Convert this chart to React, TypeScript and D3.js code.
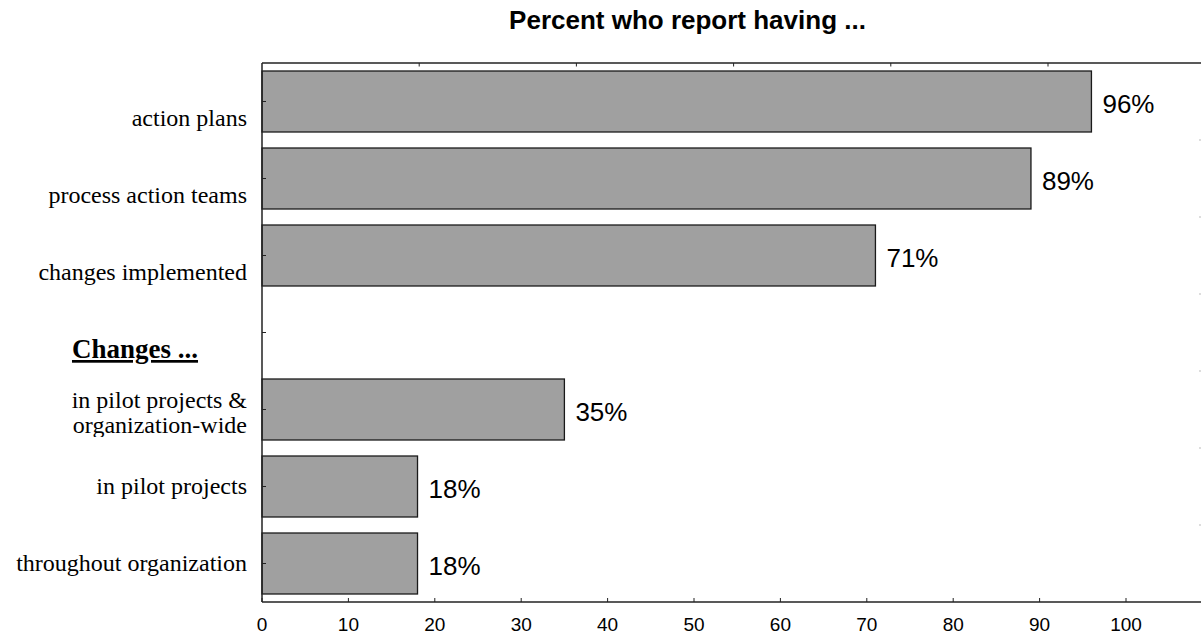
import React from "react";
import * as d3 from "d3";

// Survey responses, one slot per row (the empty slot separates the two groups)
const rowKeys = ["plans", "teams", "implemented", "gap", "pilotWide", "pilot", "throughout"];
const rowLabels: string[][] = [
  ["action plans"],
  ["process action teams"],
  ["changes implemented"],
  [],
  ["in pilot projects &", "organization-wide"],
  ["in pilot projects"],
  ["throughout organization"],
];
const rowValues: (number | null)[] = [96, 89, 71, null, 35, 18, 18];
const groupHeader = "Changes ...";
const titleText = "Percent who report having ...";
const xTickValues = [0, 10, 20, 30, 40, 50, 60, 70, 80, 90, 100];
const topTickSteps = [1, 2, 3, 4, 5];

const W = 1201;
const H = 636;
const left = 262;
const top = 63;
const bottom = 602;
const frameRight = 1202;

export default function App() {
  const x = d3.scaleLinear().domain([0, 100]).range([left, 1126]);
  const y = d3
    .scaleBand<string>()
    .domain(rowKeys)
    .range([top, bottom])
    .paddingInner(0.208)
    .paddingOuter(0.104);
  // secondary top axis with its own spacing
  const xTop = d3.scaleLinear().domain([0, 1]).range([left, left + 157.2]);

  const serif = "'Liberation Serif', 'Times New Roman', serif";
  const sans = "'Liberation Sans', Arial, sans-serif";
  const axisColor = "#222";
  const bw = y.bandwidth();
  const step = y.step();

  return (
    <svg
      width={W}
      height={H}
      style={{ position: "absolute", left: 0, top: 0, background: "#fff" }}
    >
      <defs>
        {/* the two-line label is cut off at the bottom of its box */}
        <clipPath id="twoLineClip">
          <rect x={0} y={370} width={left} height={67} />
        </clipPath>
      </defs>

      {/* title */}
      <text
        x={687.5}
        y={29}
        textAnchor="middle"
        fontFamily={sans}
        fontWeight="bold"
        fontSize={26}
        fill="#000"
      >
        {titleText}
      </text>

      {/* bars */}
      {rowKeys.map((k, i) => {
        const v = rowValues[i];
        if (v == null) return null;
        const y0 = y(k)!;
        return (
          <g key={k}>
            <rect
              x={x(0)}
              y={y0}
              width={x(v) - x(0)}
              height={bw}
              fill="#a0a0a0"
              stroke="#1a1a1a"
              strokeWidth={1.3}
            />
            <text
              x={x(v) + 11}
              y={y0 + bw / 2 + 11}
              fontFamily={sans}
              fontSize={26}
              fill="#000"
            >
              {`${v}%`}
            </text>
          </g>
        );
      })}

      {/* frame */}
      <line x1={left} x2={frameRight} y1={top} y2={top} stroke={axisColor} strokeWidth={1.3} />
      <line x1={left} x2={frameRight} y1={bottom} y2={bottom} stroke={axisColor} strokeWidth={1.5} />
      <line x1={left} x2={left} y1={top} y2={bottom} stroke={axisColor} strokeWidth={1.5} />

      {/* left ticks at row centres */}
      {rowKeys.map((k) => {
        const c = y(k)! + bw / 2;
        return <line key={k} x1={left} x2={left + 4} y1={c} y2={c} stroke={axisColor} strokeWidth={1} />;
      })}

      {/* right edge ticks at row boundaries */}
      {rowKeys.slice(1).map((k) => {
        const b = y(k)! - (step - bw) / 2;
        return <line key={k} x1={1199} x2={1201} y1={b} y2={b} stroke="#bbb" strokeWidth={1} />;
      })}

      {/* top ticks */}
      {topTickSteps.map((t) => (
        <line key={t} x1={xTop(t)} x2={xTop(t)} y1={top} y2={top + 3.5} stroke={axisColor} strokeWidth={1} />
      ))}

      {/* bottom axis ticks and labels */}
      {xTickValues.map((t) => (
        <g key={t}>
          <line x1={x(t)} x2={x(t)} y1={bottom} y2={bottom - 4} stroke={axisColor} strokeWidth={1} />
          <text
            x={x(t)}
            y={631}
            textAnchor="middle"
            fontFamily={sans}
            fontSize={19}
            fill="#000"
          >
            {t}
          </text>
        </g>
      ))}

      {/* category labels */}
      {rowKeys.map((k, i) => {
        const lines = rowLabels[i];
        if (!lines.length) return null;
        const c = y(k)! + bw / 2;
        // upper group sits below the row centre, lower group is centred
        let baseline: number;
        if (i < 3) baseline = c + 24;
        else if (lines.length > 1) baseline = c - 1.5;
        else baseline = c + 7;
        return (
          <text
            key={k}
            x={247}
            textAnchor="end"
            fontFamily={serif}
            fontSize={24}
            fill="#000"
            clipPath={lines.length > 1 ? "url(#twoLineClip)" : undefined}
          >
            {lines.map((ln, j) => (
              <tspan key={j} x={247} y={baseline + j * 25}>
                {ln}
              </tspan>
            ))}
          </text>
        );
      })}

      {/* group header */}
      <text
        x={135}
        y={358}
        textAnchor="middle"
        fontFamily={serif}
        fontWeight="bold"
        fontSize={27}
        textDecoration="underline"
        fill="#000"
      >
        {groupHeader}
      </text>
    </svg>
  );
}
